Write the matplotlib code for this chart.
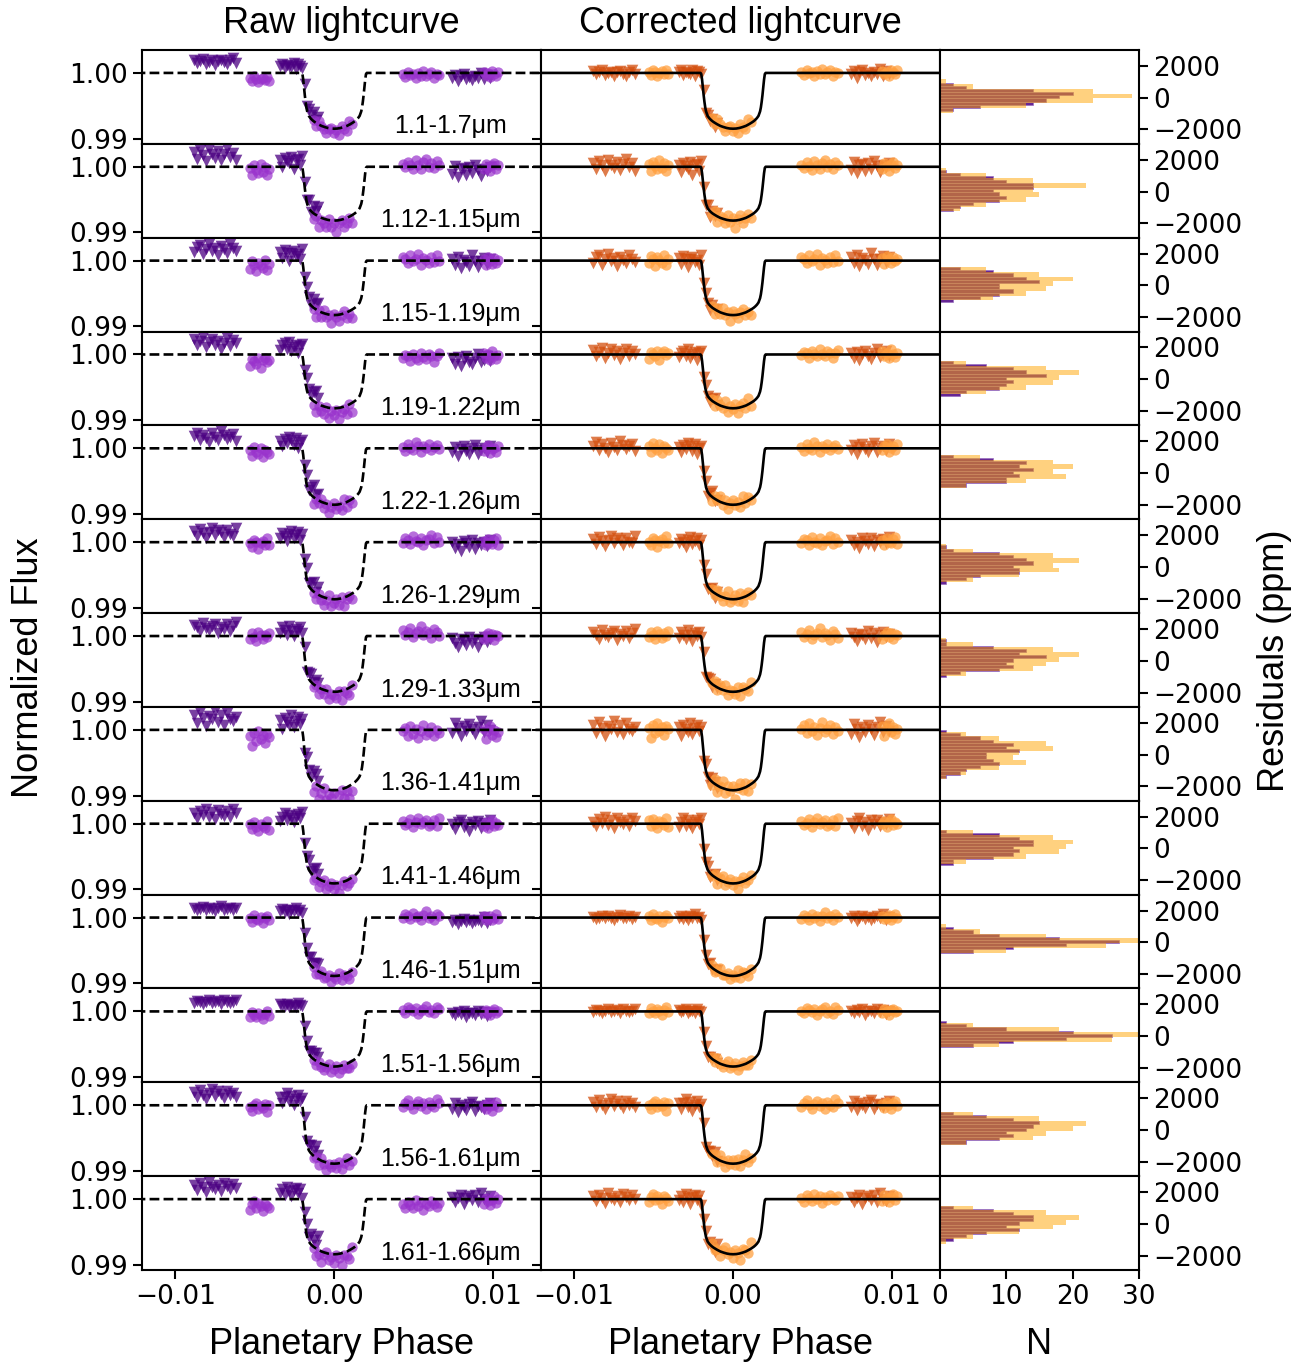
import numpy as np
import matplotlib.pyplot as plt

# wavelength bins and fitted transit depths
bands = ['1.1-1.7μm', '1.12-1.15μm', '1.15-1.19μm', '1.19-1.22μm', '1.22-1.26μm',
         '1.26-1.29μm', '1.29-1.33μm', '1.36-1.41μm', '1.41-1.46μm', '1.46-1.51μm',
         '1.51-1.56μm', '1.56-1.61μm', '1.61-1.66μm']
depths = [0.0085, 0.0082, 0.0083, 0.0082, 0.0086, 0.0087, 0.0085,
          0.0092, 0.0091, 0.0089, 0.0084, 0.0089, 0.0084]

# exposure phases (units of 1e-4), grouped by HST orbit
phase_v1 = [  # visit 1 (triangles)
    [-88, -86.1, -84.3, -82.4, -80.6, -78.7, -76.9, -75, -73.1, -71.3, -69.4, -67.6, -65.7, -63.9, -62],
    [-34, -32.6, -31.2, -29.8, -28.4, -27, -25.6, -24.2, -22.8, -21.4, -20, -18.6, -17.2, -15.8,
     -14.4, -13, -11.6, -10.2],
    [74, 75.8, 77.7, 79.5, 81.4, 83.2, 85.1, 86.9, 88.8, 90.6, 92.5, 94.3, 96.2, 98],
]
phase_v2 = [  # visit 2 (circles)
    [-53, -51.7, -50.3, -49, -47.7, -46.3, -45, -43.7, -42.3, -41],
    [-13, -11.4, -9.8, -8.2, -6.6, -5, -3.4, -1.8, -0.2, 1.4, 3, 4.6, 6.2, 7.8, 9.4, 11],
    [43, 44.6, 46.3, 47.9, 49.6, 51.2, 52.9, 54.5, 56.1, 57.8, 59.4, 61.1, 62.7, 64.4, 66],
    [94, 95.3, 96.6, 97.9, 99.1, 100.4, 101.7, 103],
]
# fraction of full transit depth at each exposure
shape_v1 = [
    [0] * 15,
    [0] * 11 + [0.38, 0.66, 0.78, 0.83, 0.865, 0.89, 0.915],
    [0] * 14,
]
shape_v2 = [
    [0] * 10,
    [0.865, 0.895, 0.925, 0.945, 0.963, 0.978, 0.99, 0.997, 1.0, 0.998, 0.993, 0.982,
     0.969, 0.952, 0.935, 0.91],
    [0] * 15,
    [0] * 8,
]

# transit model curve (phase in 1e-4, fraction of depth)
model_phase = [-125, -20.5, -20, -19.5, -19, -18.5, -18, -17.5, -17, -16, -15, -14, -13, -12,
               -10, -8, -6, -4, -2, 0, 2, 4, 6, 8, 10, 12, 13, 14, 15, 16, 17, 17.5, 18,
               18.5, 19, 19.5, 20, 20.5, 135]
model_shape = [0, 0, 0.02, 0.12, 0.26, 0.40, 0.52, 0.62, 0.69, 0.77, 0.81, 0.84, 0.865, 0.885,
               0.92, 0.95, 0.97, 0.987, 0.997, 1.0, 0.997, 0.987, 0.97, 0.95, 0.92, 0.885,
               0.865, 0.84, 0.81, 0.77, 0.69, 0.62, 0.52, 0.40, 0.26, 0.12, 0.02, 0, 0]

# orbit offsets of the raw data (ppm)
raw_off_v1 = [[1700, 1000, -600], [1600, 800, -600], [1600, 900, -300], [1600, 1100, -800],
              [1500, 900, -300], [1200, 900, -400], [1100, 700, -800], [1500, 1100, 100],
              [1300, 900, -200], [1300, 1000, -500], [1400, 900, -300], [1500, 900, -300],
              [1700, 1100, 0]]
raw_off_v2 = [[-1000, -300, -300, -200], [-600, -700, 100, -100], [-800, -400, 0, -200],
              [-1100, -900, -500, -300], [-600, -500, 0, -200], [-300, -600, 100, -100],
              [-200, -600, 300, -100], [-1200, -1100, -400, -500], [-500, -600, 0, -200],
              [-200, -400, 100, -100], [-600, -500, 100, -100], [-300, -500, 0, -200],
              [-1100, -800, -1000, -400]]

# residuals per orbit (units of 100 ppm): v1 orbits 1-3, then v2 orbits 1-4
res01 = [[3, -2, 1, 4, -3, 0, 2, -5, 1, 3, -1, -4, 2, 5, -2],
         [1, 4, -3, 2, 0, -1, 5, -4, 3, 1, -2, 6, -5, 2, -3, 4, -6, 1],
         [-2, 3, -7, 1, 4, -3, 0, -5, 2, -1, 6, -4, 3, -2],
         [2, -3, 5, 1, -4, 0, 3, -1, 4, -2],
         [5, -2, 8, 3, -1, -6, 2, 4, -3, 1, -7, 6, 0, -4, 9, 2],
         [1, -3, 4, 0, 2, -5, 3, -1, 6, -2, 1, 5, -4, 2, 0],
         [3, -1, 2, -4, 5, 1, -2, 4]]
res02 = [[6, -4, 9, 2, -7, 11, 3, -2, 8, -5, 4, 12, -1, 5, -6],
         [3, -8, 5, 1, -3, 7, -12, 2, 4, -6, 9, 0, -4, 6, -9, 3, -2, 5],
         [-5, 7, -10, 2, 4, -7, 6, -3, 9, 1, -8, 3, -1, 5],
         [4, -6, 8, 1, -3, 10, -2, 5, -7, 3],
         [-2, 6, -9, 3, 1, -5, 8, -3, 4, -11, 2, 7, -6, 0, 5, -4],
         [3, -2, 7, 1, -5, 9, 2, -4, 6, 11, -1, 4, -3, 8, 2],
         [-3, 5, 1, -6, 4, 7, -2, 3]]
res03 = [[-3, 5, 8, -6, 2, 10, -1, 4, -8, 6, 1, -4, 9, 3, -2],
         [4, -5, 7, 2, -9, 3, 6, -2, 1, -6, 8, -3, 5, 0, -7, 4, -1, 2],
         [6, -3, 9, -8, 4, 1, -5, 11, 2, -6, 3, 7, -2, 5],
         [-4, 7, 2, -8, 5, 1, -3, 9, -6, 3],
         [2, -7, 5, -3, 8, -1, 4, -9, 6, 1, -5, 3, 7, -4, 0, -8],
         [5, 2, -4, 8, -1, 3, 10, -6, 4, 1, -3, 6, -2, 9, 0],
         [4, -5, 7, 2, -3, 6, -1, 3]]
res04 = [[7, -2, 4, 10, -5, 3, 8, -1, 5, -7, 2, 9, -3, 6, 1],
         [-4, 3, 6, -2, 8, -6, 1, 4, -9, 2, 5, -3, 7, 0, -5, 3, 6, -2],
         [2, -6, 4, -9, 1, 5, -3, -7, 3, 8, -4, 0, 6, -2],
         [-7, 4, 1, -3, 6, -9, 2, 5, -1, 3],
         [3, -5, 7, 1, -2, 9, -6, 4, -1, 6, -8, 2, 5, -3, 10, -4],
         [-1, 4, 2, -5, 6, 0, -3, 8, 1, -2, 5, 3, -6, 2, 7],
         [5, -2, 3, -6, 8, 1, -4, 2]]
res05 = [[4, 9, -3, 6, 1, -5, 8, 2, -2, 11, 5, -1, 3, 7, -4],
         [2, -6, 5, -1, 8, 3, -4, 6, -8, 1, 4, -2, 7, -5, 3, 9, -3, 0],
         [-3, 5, -8, 2, 6, -1, -5, 3, 8, -6, 1, 4, -2, 6],
         [3, -5, 8, 0, -2, 6, -7, 4, 1, -3],
         [-6, 4, 1, 9, -3, 5, -8, 2, 7, -1, 3, -5, 11, -2, 6, 0],
         [2, -4, 6, 1, -2, 9, 3, -6, 4, 0, 7, -3, 2, 5, -1],
         [-2, 4, 7, -5, 1, 3, -3, 6]]
res06 = [[5, -3, 8, 2, -6, 4, 10, -1, 6, 3, -4, 7, 1, -2, 9],
         [-2, 5, 1, -7, 4, 8, -3, 2, 6, -5, 3, -1, 9, -4, 1, 5, -8, 3],
         [4, -5, 1, -9, 6, 2, -3, 7, -6, 3, 0, 5, -2, 8],
         [1, -4, 6, 3, -7, 2, 5, -2, 9, -1],
         [4, -2, 7, 0, -6, 3, 12, -4, 1, 6, -3, 8, -7, 2, 5, -1],
         [-2, 5, 3, -4, 8, 1, -1, 6, -5, 2, 4, 10, -3, 7, 0],
         [3, -4, 6, 1, -2, 5, 8, -3]]
res07 = [[6, 2, -4, 9, 1, -2, 5, 8, -6, 3, 0, 7, -3, 4, 10],
         [-3, 6, 2, -5, 9, 1, -7, 4, 0, 6, -2, 8, -6, 3, 5, -4, 2, -1],
         [5, -2, -8, 3, 1, -5, 7, -3, 4, -9, 2, 6, -1, 3],
         [-2, 6, 1, -5, 8, 3, -3, 4, 0, 7],
         [2, 7, -4, 5, -1, 9, -6, 3, 1, -3, 6, -8, 4, 0, -5, 8],
         [6, -1, 3, 9, -4, 2, 5, 12, -2, 4, 1, -6, 7, 3, -3],
         [-4, 2, 6, -1, 4, -5, 3, 1]]
res08 = [[8, -5, 12, 3, -9, 6, 1, 14, -3, 7, -7, 10, 2, -1, 5],
         [4, -10, 7, 1, -4, 11, -6, 3, 8, -2, 5, -12, 9, 0, -7, 6, 3, -5],
         [-6, 9, 2, -11, 5, -3, 8, 1, -8, 4, 12, -4, 6, -1],
         [3, -12, 7, -5, 10, -2, 4, -8, 6, 1],
         [-4, 8, -9, 2, 11, -6, 5, -1, 7, -13, 3, 9, -3, 6, -7, 1],
         [2, 7, -5, 10, -2, 5, -8, 3, 12, -4, 1, 8, -6, 4, -1],
         [6, -9, 3, 11, -3, 5, -6, 2]]
res09 = [[3, -4, 7, 1, 10, -2, 5, -6, 8, 2, -1, 6, -3, 9, 4],
         [-5, 2, 8, -3, 5, 0, -7, 3, 6, -1, 9, -4, 2, 7, -6, 1, 4, -2],
         [1, -6, 4, 8, -3, 2, -9, 5, 0, 6, -4, 3, -1, 7],
         [5, -3, 7, 0, -6, 4, 2, -2, 9, -5],
         [-1, 5, -7, 3, 8, -4, 1, 6, -2, 4, -9, 2, 7, -3, 0, 5],
         [4, -2, 1, 7, -5, 3, 9, -1, 2, 6, -3, 0, 5, -4, 8],
         [-1, 4, -5, 2, 7, -2, 3, 0]]
res10 = [[1, -2, 0, 3, -1, 2, 0, -3, 1, 4, -1, 0, 2, -2, 1],
         [0, 3, -2, 1, -4, 2, 0, 5, -1, 1, -3, 0, 2, -1, 4, -2, 0, 1],
         [-1, 2, -5, 0, 3, -2, 1, -4, 0, 2, -1, 6, -3, 1],
         [2, -4, 6, 0, -2, 3, -6, 1, 4, -1],
         [5, -3, 1, 7, -2, 0, 4, -5, 2, -1, 8, -4, 3, 0, -6, 2],
         [-2, 4, 1, -3, 6, 0, 2, -5, 3, 9, -1, 2, -4, 5, 1],
         [3, -2, 0, 4, -3, 1, 6, -1]]
res11 = [[-1, 2, 0, -3, 1, 3, -1, 0, 2, -2, 4, 0, -1, 1, 3],
         [2, -1, 0, 3, -3, 1, 0, -2, 4, 1, -1, 0, 2, -4, 1, 0, 3, -2],
         [0, -3, 2, -1, 4, -5, 1, 0, -2, 3, -1, 2, -4, 1],
         [-3, 5, 1, -2, 4, 0, -5, 2, 7, -1],
         [3, -2, 6, 0, -4, 2, 8, -3, 1, 5, -6, 0, 4, -1, -3, 2],
         [1, -3, 5, 2, -1, 4, -5, 0, 3, 7, -2, 1, -4, 6, 2],
         [-2, 3, 0, -5, 2, 4, -1, 1]]
res12 = [[5, -2, 8, 1, -5, 3, 10, -1, 6, 2, -4, 7, 0, 4, -3],
         [3, -6, 4, 9, -2, 5, -8, 1, 6, -3, 2, 7, -5, 0, 4, -1, 8, -4],
         [-2, 6, -7, 3, 1, -4, 5, 8, -6, 2, 0, -3, 4, 7],
         [1, -6, 4, 7, -3, 2, -1, 5, -8, 3],
         [2, 6, -4, 9, 1, -7, 4, 0, 5, -2, 7, -5, 3, 10, -3, 1],
         [-3, 4, 8, 0, -5, 2, 6, -1, 3, -6, 5, 1, -2, 9, 4],
         [2, -4, 5, 1, -6, 3, 7, -1]]
res13 = [[4, -3, 7, 2, -6, 9, 1, -1, 5, -4, 8, 3, -2, 6, 0],
         [-1, 5, -4, 8, 2, -7, 3, 6, -2, 4, -9, 1, 7, -3, 5, 0, -6, 9],
         [3, -5, 1, 7, -8, 2, 4, -2, 6, -4, 10, 0, -3, 5],
         [-5, 3, 8, -2, 5, 0, -7, 4, 1, -3],
         [6, -3, 2, -8, 4, 9, -1, 3, -5, 7, 1, -10, 5, 2, -4, 11],
         [2, -4, 6, 1, -3, 8, 0, 5, -6, 3, -1, 7, 2, -2, 4],
         [-3, 6, 1, -5, 3, 8, -2, 4]]
residuals = [res01, res02, res03, res04, res05, res06, res07,
             res08, res09, res10, res11, res12, res13]

txt = dict(family='Liberation Sans')
fig = plt.figure(figsize=(13.07, 13.65), dpi=100)
gs = fig.add_gridspec(13, 3, width_ratios=[2, 2, 1], left=0.1086, right=0.8715,
                      top=0.9634, bottom=0.0696, hspace=0, wspace=0)

# histogram bin edges (ppm)
fine_bins = np.arange(-3050, 3051, 200)
coarse_bins = np.arange(-3050, 3051, 300)

mph = np.array(model_phase) * 1e-4
for i in range(13):
    ax_r = fig.add_subplot(gs[i, 0])
    ax_c = fig.add_subplot(gs[i, 1])
    ax_h = fig.add_subplot(gs[i, 2])
    d = depths[i]
    res = residuals[i]

    for k in range(3):
        ph = np.array(phase_v1[k]) * 1e-4
        cor = 1 - d * np.array(shape_v1[k]) + np.array(res[k]) * 1e-4
        raw = cor + raw_off_v1[i][k] * 1e-6
        ax_r.scatter(ph, raw, marker='v', s=70, color='#4B0082', alpha=0.75, linewidths=0, zorder=2)
        ax_c.scatter(ph, cor, marker='v', s=70, color='#D4500F', alpha=0.75, linewidths=0, zorder=2)
    for k in range(4):
        ph = np.array(phase_v2[k]) * 1e-4
        cor = 1 - d * np.array(shape_v2[k]) + np.array(res[3 + k]) * 1e-4
        raw = cor + raw_off_v2[i][k] * 1e-6
        ax_r.scatter(ph, raw, marker='o', s=55, color='#9932CC', alpha=0.7, linewidths=0, zorder=2)
        ax_c.scatter(ph, cor, marker='o', s=55, color='#FFA040', alpha=0.75, linewidths=0, zorder=2)

    model = 1 - d * np.array(model_shape)
    ax_r.plot(mph, model, 'k--', lw=1.9, zorder=3)
    ax_c.plot(mph, model, 'k-', lw=1.9, zorder=3)

    all_res = np.concatenate([np.array(r) for r in res]) * 100
    ax_h.hist(all_res, bins=fine_bins, orientation='horizontal', color='#4B0082', alpha=0.85,
              edgecolor='#9a70c0', linewidth=0.6)
    ax_h.hist(all_res, bins=coarse_bins, orientation='horizontal', color='#FFA500', alpha=0.5)

    ax_r.text(0.774, 0.11, bands[i], transform=ax_r.transAxes, ha='center', va='baseline',
              fontsize=18, **txt)

    for ax in (ax_r, ax_c):
        ax.set_xlim(-0.0121, 0.0130)
        ax.set_ylim(0.9892, 1.0035)
        ax.set_yticks([0.99, 1.00])
    ax_r.set_yticklabels(['0.99', '1.00'])
    ax_c.set_yticklabels([])

    ax_h.set_xlim(0, 30)
    ax_h.set_ylim(-2900, 3000)
    ax_h.yaxis.tick_right()
    ax_h.set_yticks([-2000, 0, 2000], ['\u22122000', '0', '2000'])

    for ax in (ax_r, ax_c, ax_h):
        ax.tick_params(direction='out', length=6.5, width=1.5, labelsize=19)
        for sp in ax.spines.values():
            sp.set_linewidth(1.5)
    ax_h.tick_params(left=False)

    if i < 12:
        for ax in (ax_r, ax_c, ax_h):
            ax.tick_params(bottom=False, labelbottom=False)
    else:
        for ax in (ax_r, ax_c):
            ax.set_xticks([-0.01, 0, 0.01], ['\u22120.01', '0.00', '0.01'])
            ax.set_xlabel('Planetary Phase', fontsize=26, labelpad=12, **txt)
        ax_h.set_xticks([0, 10, 20, 30])
        ax_h.set_xlabel('N', fontsize=26, labelpad=12, **txt)

    if i == 0:
        ax_r.set_title('Raw lightcurve', fontsize=26, pad=12, **txt)
        ax_c.set_title('Corrected lightcurve', fontsize=26, pad=12, **txt)

fig.text(0.0215, 0.511, 'Normalized Flux', rotation=90, ha='center', va='center', fontsize=26, **txt)
fig.text(0.9755, 0.516, 'Residuals (ppm)', rotation=90, ha='center', va='center', fontsize=26, **txt)

fig.savefig('out.png', dpi=100)
